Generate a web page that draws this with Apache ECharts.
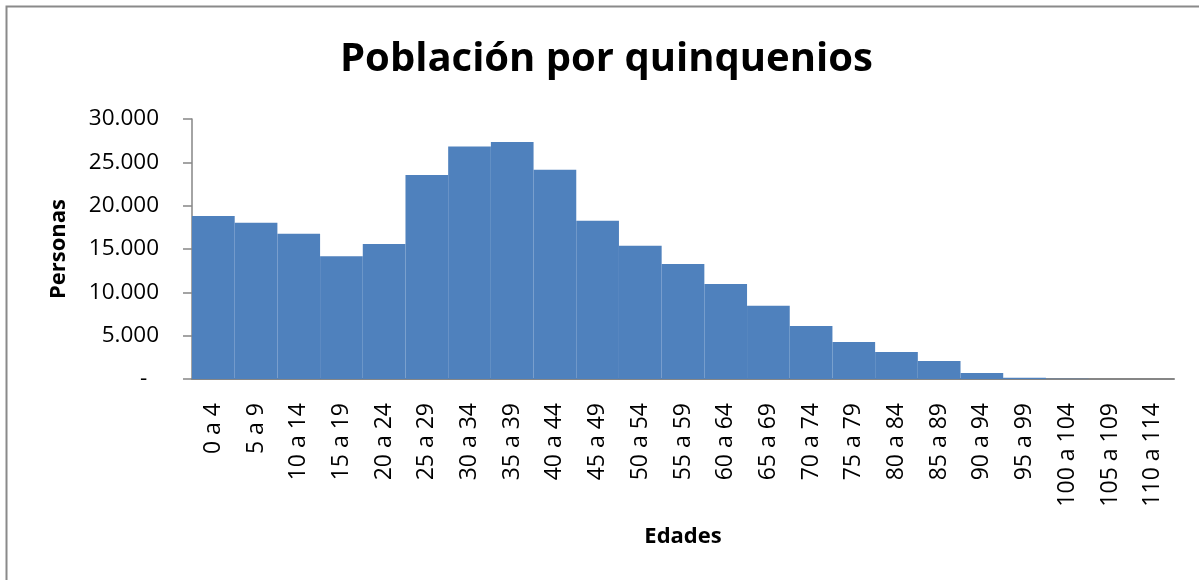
<!DOCTYPE html>
<html>
<head>
<meta charset="utf-8">
<script src="https://cdn.jsdelivr.net/npm/echarts@6/dist/echarts.min.js"></script>
<style>
  html, body { margin: 0; padding: 0; background: #fff; }
  #chart { width: 1199px; height: 580px; }
</style>
</head>
<body>
<div id="chart"></div>
<script>
// grupos de edad (quinquenios)
var categorias = ['0 a 4', '5 a 9', '10 a 14', '15 a 19', '20 a 24', '25 a 29', '30 a 34', '35 a 39',
  '40 a 44', '45 a 49', '50 a 54', '55 a 59', '60 a 64', '65 a 69', '70 a 74', '75 a 79',
  '80 a 84', '85 a 89', '90 a 94', '95 a 99', '100 a 104', '105 a 109', '110 a 114']
// personas por grupo
var personas = [18800, 18030, 16760, 14150, 15580, 23540, 26840, 27350,
  24150, 18270, 15380, 13270, 10960, 8460, 6120, 4270,
  3120, 2080, 690, 130, 20, 5, 0]
var ticksY = [0, 5000, 10000, 15000, 20000, 25000, 30000]

var myChart = echarts.init(document.getElementById('chart'))
var fuente = 'Open Sans'

function miles (v) {
  if (v === 0) return '-  '
  return String(v).replace(/\B(?=(\d{3})+(?!\d))/g, '.')
}

var option = {
  animation: false,
  textStyle: { fontFamily: fuente },
  title: {
    text: 'Población por quinquenios',
    left: 335,
    top: 35,
    textStyle: { fontFamily: fuente, fontSize: 40, fontWeight: 'bold', color: '#000' }
  },
  graphic: [{
    // marco del area del grafico
    type: 'rect',
    shape: { x: 6.5, y: 6.5, width: 1300, height: 700 },
    style: { fill: 'none', stroke: '#8a8a8a', lineWidth: 2 },
    silent: true
  }],
  grid: { left: 192, right: 25, top: 119, bottom: 201, containLabel: false },
  xAxis: {
    type: 'category',
    data: categorias,
    name: 'Edades',
    nameLocation: 'middle',
    nameGap: 147,
    nameTextStyle: { fontFamily: fuente, fontSize: 22, fontWeight: 'bold', color: '#000' },
    axisLine: { lineStyle: { color: '#868686', width: 2 } },
    axisTick: { show: false },
    axisLabel: { rotate: 90, margin: 24, fontSize: 23, color: '#000', interval: 0 }
  },
  yAxis: {
    type: 'value',
    min: ticksY[0],
    max: ticksY[ticksY.length - 1],
    interval: ticksY[1] - ticksY[0],
    name: 'Personas',
    nameLocation: 'middle',
    nameGap: 122,
    nameTextStyle: { fontFamily: fuente, fontSize: 22, fontWeight: 'bold', color: '#000' },
    axisLine: { show: true, lineStyle: { color: '#868686', width: 1.5 } },
    axisTick: { show: true, length: 9, lineStyle: { color: '#868686', width: 1.5 } },
    splitLine: { show: false },
    axisLabel: { margin: 33, fontSize: 22.5, color: '#000', formatter: miles }
  },
  series: [{
    name: 'Personas',
    type: 'bar',
    data: personas,
    barCategoryGap: 0,
    itemStyle: { color: '#4F81BD', borderWidth: 0 }
  }]
}

myChart.setOption(option)
</script>
</body>
</html>
